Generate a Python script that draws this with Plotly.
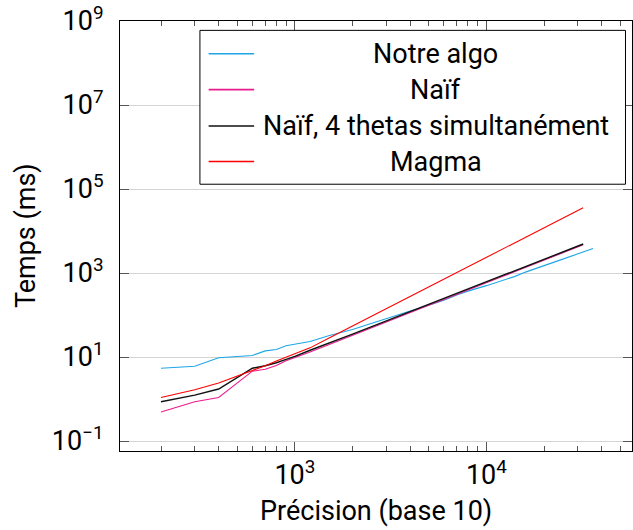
import plotly.graph_objects as go

# ---- data ----
precision = [200, 300, 400, 600, 700, 800, 900, 1000, 1200, 1500, 2000, 2500, 3000,
             4000, 5000, 6000, 7000, 8000, 10000, 12000, 14000, 16000, 18000, 20000,
             24000, 28000, 32000]
precision_notre = precision + [36000]

notre_algo = [5.4, 6.0, 9.6, 10.9, 14.0, 15.1, 18.5, 19.9, 23.5, 32, 45, 63, 83,
              125, 170, 225, 300, 370, 500, 650, 820, 1050, 1250, 1500,
              2000, 2600, 3200, 3830]
naif = [0.49, 0.86, 1.09, 4.6, 5.1, 6.3, 8.1, 9.8, 13.2, 19.5, 33, 49, 68,
        114, 170, 235, 312, 395, 585, 810, 1065, 1350, 1660, 2010,
        2780, 3670, 4700]
naif_4 = [0.86, 1.24, 1.73, 5.4, 6.2, 7.3, 8.8, 10.4, 14.5, 21, 35, 52, 72,
          121, 180, 248, 330, 415, 617, 853, 1120, 1420, 1750, 2120,
          2930, 3860, 4900]
magma = [1.09, 1.66, 2.4, 4.7, 6.2, 8.0, 10.0, 12.2, 16.5, 28, 55, 92, 141,
         276, 466, 713, 1020, 1400, 2360, 3600, 5200, 7100, 9300, 11900,
         18300, 26200, 35800]

series_names = ["Notre algo", "Naïf", "Naïf, 4 thetas simultanément", "Magma"]
series_x = [precision_notre, precision, precision, precision]
series_y = [notre_algo, naif, naif_4, magma]
series_colors = ["#1ea6e6", "#ec1b8c", "#111111", "#ff0000"]
series_widths = [1.1, 1.1, 1.4, 1.1]

y_tickvals = [1e-1, 1e1, 1e3, 1e5, 1e7, 1e9]
y_ticktext = ["10<sup>−1</sup>", "10<sup>1</sup>", "10<sup>3</sup>",
              "10<sup>5</sup>", "10<sup>7</sup>", "10<sup>9</sup>"]
x_tickvals = [1e3, 1e4]
x_ticktext = ["10<sup>3</sup>", "10<sup>4</sup>"]
x_minor = [200, 300, 400, 500, 600, 700, 800, 900,
           2000, 3000, 4000, 5000, 6000, 7000, 8000, 9000,
           20000, 30000, 40000, 50000]

FONT = "Roboto"
FS = 27

fig = go.Figure()
for name, xs, ys, c, w in zip(series_names, series_x, series_y, series_colors, series_widths):
    fig.add_trace(go.Scatter(x=xs, y=ys, mode="lines", name=name,
                             line=dict(color=c, width=w), showlegend=False))

fig.update_layout(
    width=633, height=530,
    margin=dict(l=120, r=1, t=21, b=79),
    plot_bgcolor="white", paper_bgcolor="white",
    font=dict(family=FONT, size=FS, color="black"),
)
fig.update_xaxes(
    type="log", range=[2.087, 4.76],
    tickvals=x_tickvals, ticktext=x_ticktext,
    ticks="inside", ticklen=9, tickcolor="#555", tickwidth=1,
    minor=dict(tickvals=x_minor, ticks="inside", ticklen=5, tickcolor="#555", showgrid=False),
    showgrid=False, zeroline=False,
    showline=True, linecolor="black", linewidth=1, mirror="allticks",
    tickfont=dict(family=FONT, size=FS),
)
fig.update_yaxes(
    type="log", range=[-1.238, 9],
    tickvals=y_tickvals, ticktext=y_ticktext,
    ticks="inside", ticklen=9, tickcolor="#555", tickwidth=1,
    showgrid=True, gridcolor="#d4d4d4", gridwidth=1, zeroline=False,
    showline=True, linecolor="black", linewidth=1, mirror="allticks",
    tickfont=dict(family=FONT, size=FS), ticklabelstandoff=10,
)

# axis titles
fig.add_annotation(text="Précision (base 10)", xref="paper", yref="paper",
                   x=0.5, y=-0.139, xanchor="center", yanchor="middle",
                   showarrow=False, font=dict(family=FONT, size=FS))
fig.add_annotation(text="Temps (ms)", xref="paper", yref="paper",
                   x=-0.1834, y=0.5, xanchor="center", yanchor="middle", textangle=-90,
                   showarrow=False, font=dict(family=FONT, size=FS))

# legend box (drawn like the pgfplots legend: samples on the left, centred labels)
fig.add_shape(type="rect", xref="paper", yref="paper",
              x0=0.1561, x1=0.9873, y0=0.6204, y1=0.9782,
              line=dict(color="black", width=1), fillcolor="white", layer="above")
legend_rows = [0.9240, 0.8404, 0.7558, 0.6731]
for name, c, ry in zip(series_names, series_colors, legend_rows):
    fig.add_shape(type="line", xref="paper", yref="paper",
                  x0=0.1731, x1=0.2620, y0=ry, y1=ry,
                  line=dict(color=c, width=1.6), layer="above")
    fig.add_annotation(text=name, xref="paper", yref="paper",
                       x=0.6166, y=ry, xanchor="center", yanchor="middle",
                       showarrow=False, font=dict(family=FONT, size=FS))

fig.write_html("out.html", config={"displayModeBar": False},
               post_script="document.body.style.margin='0';document.body.style.overflow='hidden';")
